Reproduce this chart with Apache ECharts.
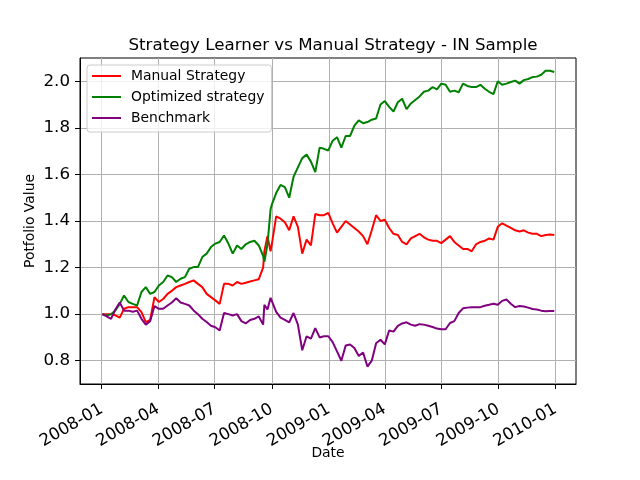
<!DOCTYPE html>
<html>
<head>
    <meta charset="utf-8">
    <title>Strategy Learner vs Manual Strategy - IN Sample</title>
    <script src="https://cdn.jsdelivr.net/npm/echarts@6/dist/echarts.min.js"></script>
    <style>
        html, body { margin: 0; padding: 0; background: #fff; }
        #chart1 { width: 640px; height: 480px; }
    </style>
</head>
<body>
<div id="chart1"></div>
<script type="text/javascript">
    // weekly samples
    var dates = [
        '2008-01-02','2008-01-09','2008-01-16','2008-01-23','2008-01-30',
        '2008-02-06','2008-02-13','2008-02-20','2008-02-27',
        '2008-03-05','2008-03-12','2008-03-19','2008-03-26',
        '2008-04-02','2008-04-09','2008-04-16','2008-04-23','2008-04-30',
        '2008-05-07','2008-05-14','2008-05-21','2008-05-28',
        '2008-06-04','2008-06-11','2008-06-18','2008-06-25',
        '2008-07-02','2008-07-09','2008-07-16','2008-07-23','2008-07-30',
        '2008-08-06','2008-08-13','2008-08-20','2008-08-27',
        '2008-09-03','2008-09-10','2008-09-17','2008-09-19','2008-09-24','2008-09-29',
        '2008-10-01','2008-10-08','2008-10-15','2008-10-22','2008-10-29',
        '2008-11-05','2008-11-12','2008-11-19','2008-11-26',
        '2008-12-03','2008-12-10','2008-12-17','2008-12-24','2008-12-31',
        '2009-01-07','2009-01-14','2009-01-21','2009-01-28',
        '2009-02-04','2009-02-11','2009-02-18','2009-02-25',
        '2009-03-04','2009-03-11','2009-03-18','2009-03-25',
        '2009-04-01','2009-04-08','2009-04-15','2009-04-22','2009-04-29',
        '2009-05-06','2009-05-13','2009-05-20','2009-05-27',
        '2009-06-03','2009-06-10','2009-06-17','2009-06-24',
        '2009-07-01','2009-07-08','2009-07-15','2009-07-22','2009-07-29',
        '2009-08-05','2009-08-12','2009-08-19','2009-08-26',
        '2009-09-02','2009-09-09','2009-09-16','2009-09-23','2009-09-30',
        '2009-10-07','2009-10-14','2009-10-21','2009-10-28',
        '2009-11-04','2009-11-11','2009-11-18','2009-11-25',
        '2009-12-02','2009-12-09','2009-12-16','2009-12-23','2009-12-30'
    ];

    var manualStrategy = [
        1.0, 1.0, 1.0, 0.995, 0.985,
        1.023, 1.03, 1.03, 1.03,
        1.009, 0.966, 0.975, 1.073,
        1.052, 1.065, 1.087, 1.10, 1.116,
        1.123, 1.13, 1.138, 1.145,
        1.13, 1.116, 1.087, 1.073,
        1.059, 1.044, 1.13, 1.13, 1.123,
        1.138, 1.13, 1.135, 1.14,
        1.145, 1.15, 1.20, 1.27, 1.335, 1.27,
        1.30, 1.42, 1.41, 1.395, 1.36,
        1.42, 1.375, 1.26, 1.32,
        1.295, 1.43, 1.425, 1.425, 1.435,
        1.39, 1.35, 1.375, 1.40,
        1.385, 1.37, 1.355, 1.335,
        1.30, 1.36, 1.425, 1.40,
        1.405, 1.37, 1.345, 1.34, 1.31,
        1.30, 1.325, 1.335, 1.345,
        1.33, 1.32, 1.315, 1.315,
        1.305, 1.32, 1.335, 1.31, 1.295,
        1.28, 1.28, 1.27, 1.30,
        1.31, 1.315, 1.325, 1.32, 1.375,
        1.39, 1.38, 1.37, 1.36,
        1.355, 1.36, 1.35, 1.345,
        1.345, 1.335, 1.34, 1.342, 1.34
    ];

    var optimizedStrategy = [
        1.0, 0.994, 1.0, 1.016, 1.044,
        1.08, 1.052, 1.044, 1.037,
        1.095, 1.116, 1.087, 1.095,
        1.123, 1.138, 1.166, 1.159, 1.138,
        1.152, 1.159, 1.195, 1.202,
        1.202, 1.245, 1.26, 1.288,
        1.303, 1.31, 1.338, 1.303, 1.26,
        1.295, 1.28, 1.30, 1.31,
        1.315, 1.295, 1.25, 1.225, 1.30, 1.45,
        1.47, 1.52, 1.555, 1.545, 1.50,
        1.59, 1.63, 1.67, 1.685,
        1.655, 1.61, 1.715, 1.71, 1.703,
        1.745, 1.76, 1.715, 1.765,
        1.765, 1.81, 1.832, 1.82,
        1.825, 1.835, 1.84, 1.90,
        1.915, 1.89, 1.87, 1.91, 1.925,
        1.88, 1.905, 1.92, 1.935,
        1.955, 1.96, 1.975, 1.965,
        1.99, 1.985, 1.955, 1.96, 1.953,
        1.99, 1.98, 1.975, 1.975,
        1.985, 1.968, 1.955, 1.945, 2.0,
        1.985, 1.99, 1.997, 2.003,
        1.99, 2.005, 2.01, 2.018,
        2.02, 2.028, 2.045, 2.045, 2.04
    ];

    var benchmark = [
        1.0, 0.99, 0.98, 1.02, 1.05,
        1.015, 1.015, 1.01, 1.015,
        0.98, 0.955, 0.97, 1.035,
        1.023, 1.023, 1.037, 1.05, 1.068,
        1.05, 1.044, 1.037, 1.016,
        1.0, 0.98, 0.966, 0.95,
        0.944, 0.93, 1.005, 1.0, 0.994,
        1.0, 0.97, 0.96, 0.975,
        0.98, 0.99, 0.955, 1.04, 1.02, 1.07,
        1.075, 1.01, 0.985, 0.975, 0.965,
        1.005, 0.955, 0.845, 0.905,
        0.895, 0.94, 0.90, 0.905, 0.905,
        0.88, 0.84, 0.80, 0.865,
        0.87, 0.855, 0.82, 0.835,
        0.775, 0.80, 0.875, 0.89,
        0.87, 0.93, 0.925, 0.95, 0.96,
        0.965, 0.955, 0.95, 0.957,
        0.955, 0.95, 0.945, 0.938,
        0.935, 0.935, 0.962, 0.97, 1.005,
        1.025, 1.028, 1.03, 1.03,
        1.03, 1.036, 1.04, 1.045, 1.04,
        1.057, 1.063, 1.045, 1.03,
        1.035, 1.033, 1.028, 1.022,
        1.02, 1.015, 1.012, 1.014, 1.013
    ];

    var xTicks = ['2008-01-01','2008-04-01','2008-07-01','2008-10-01','2009-01-01',
                  '2009-04-01','2009-07-01','2009-10-01','2010-01-01'];
    var yTicks = [0.8, 1.0, 1.2, 1.4, 1.6, 1.8, 2.0];

    function pairs(vals) {
        return dates.map(function (d, i) { return [d, vals[i]]; });
    }

    var font = 'DejaVu Sans';
    var myChart1 = echarts.init(document.getElementById('chart1'));

    myChart1.setOption({
        animation: false,
        backgroundColor: '#fff',
        textStyle: { fontFamily: font },
        title: {
            text: 'Strategy Learner vs Manual Strategy - IN Sample',
            left: 328,
            textAlign: 'center',
            top: 32,
            textStyle: { fontFamily: font, fontSize: 16.7, fontWeight: 'normal', color: '#000' }
        },
        grid: {
            left: 80, right: 64, top: 58, bottom: 96,
            show: true, borderColor: '#000', borderWidth: 1
        },
        legend: {
            orient: 'vertical',
            left: 87, top: 65,
            padding: [3, 7, 6, 5],
            itemGap: 5,
            itemWidth: 29, itemHeight: 2,
            icon: 'rect',
            backgroundColor: 'rgba(255,255,255,0.8)',
            borderColor: '#cccccc', borderWidth: 1, borderRadius: 3,
            textStyle: { fontFamily: font, fontSize: 13.9, color: '#000', lineHeight: 16, padding: [0, 0, 0, 5] },
            data: ['Manual Strategy', 'Optimized strategy', 'Benchmark']
        },
        xAxis: {
            type: 'time',
            min: '2007-11-27',
            max: '2010-02-03',
            name: 'Date',
            nameLocation: 'middle',
            nameGap: 62,
            nameMoveOverlap: false,
            nameTextStyle: { fontFamily: font, fontSize: 13.9, color: '#000' },
            axisLine: { lineStyle: { color: '#000', width: 1 } },
            axisTick: { show: true, length: 5, lineStyle: { color: '#000' }, customValues: xTicks },
            axisLabel: {
                customValues: xTicks,
                rotate: 30,
                margin: 24,
                fontFamily: font, fontSize: 16.7, color: '#000',
                formatter: '{yyyy}-{MM}'
            },
            splitLine: { show: true, lineStyle: { color: '#b0b0b0', width: 1 } }
        },
        yAxis: {
            type: 'value',
            min: 0.7,
            max: 2.1,
            name: 'Potfolio Value',
            nameLocation: 'middle',
            nameGap: 43,
            nameMoveOverlap: false,
            nameTextStyle: { fontFamily: font, fontSize: 13.9, color: '#000' },
            axisLine: { show: true, lineStyle: { color: '#000', width: 1 } },
            axisTick: { show: true, length: 5, lineStyle: { color: '#000' }, customValues: yTicks },
            axisLabel: {
                customValues: yTicks,
                margin: 10,
                fontFamily: font, fontSize: 16.7, color: '#000',
                formatter: function (v) { return v.toFixed(1); }
            },
            splitLine: { show: true, lineStyle: { color: '#b0b0b0', width: 1 } }
        },
        series: [
            {
                name: 'Manual Strategy', type: 'line', showSymbol: false,
                itemStyle: { color: '#ff0000' },
                lineStyle: { color: '#ff0000', width: 2 },
                data: pairs(manualStrategy)
            },
            {
                name: 'Optimized strategy', type: 'line', showSymbol: false,
                itemStyle: { color: '#008000' },
                lineStyle: { color: '#008000', width: 2 },
                data: pairs(optimizedStrategy)
            },
            {
                name: 'Benchmark', type: 'line', showSymbol: false,
                itemStyle: { color: '#800080' },
                lineStyle: { color: '#800080', width: 2 },
                data: pairs(benchmark)
            }
        ]
    });
</script>
</body>
</html>
